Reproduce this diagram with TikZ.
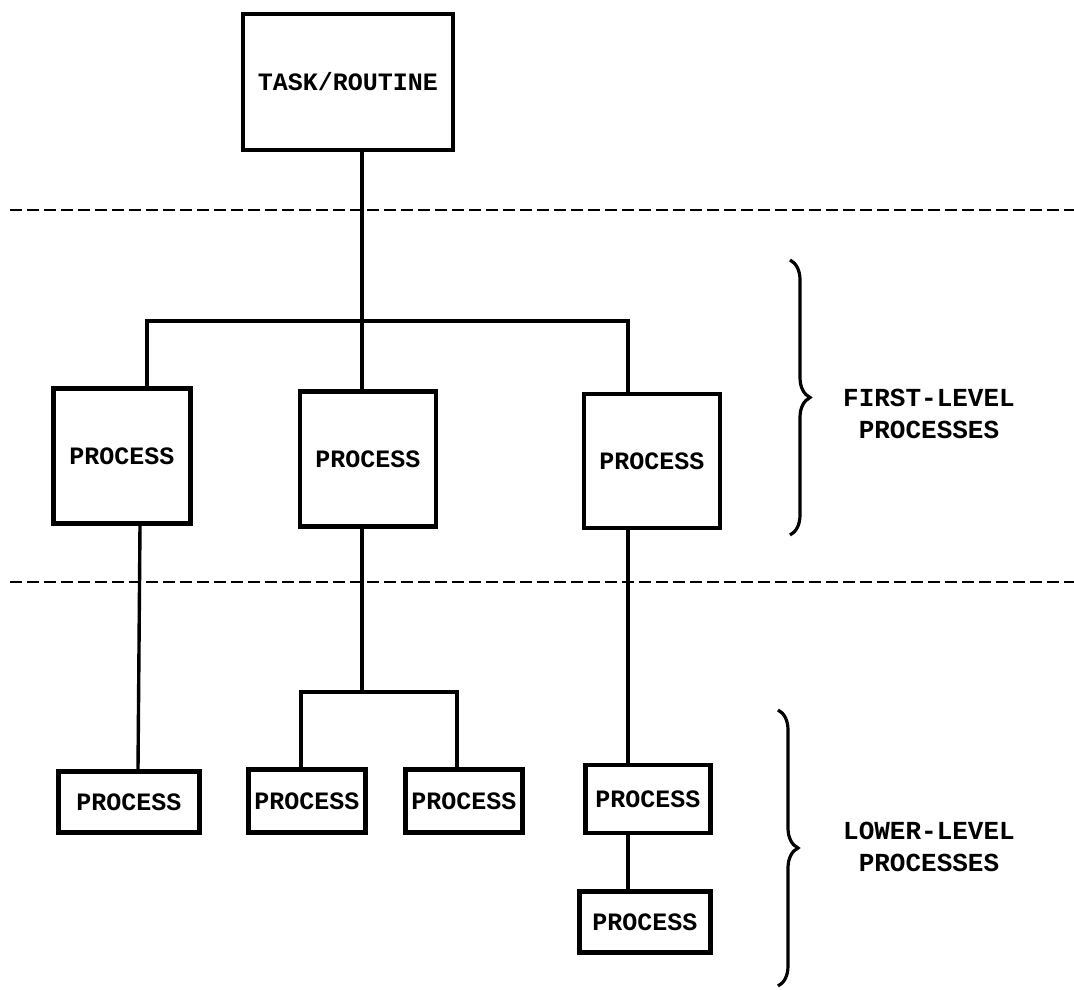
\documentclass[tikz,border=0pt]{standalone}
\usepackage{fontspec}
\setmonofont{Liberation Mono}
\usepackage{tikz}
\usetikzlibrary{calc, decorations.pathreplacing}
\tikzset{>=latex}

\begin{document}
\begin{tikzpicture}[x=1pt, y=-1pt,
  box/.style={draw, line width=4.2pt, inner sep=0pt, font=\ttfamily\bfseries\fontsize{25}{32}\selectfont},
  link/.style={line width=3.4pt},
  sep/.style={line width=2.6pt, dash pattern=on 12pt off 5pt},
  bracegroup/.style={line width=3.2pt, decorate, decoration={brace, amplitude=20pt}},
  sidetext/.style={align=center, font=\ttfamily\bfseries\fontsize{26}{32}\selectfont}]
\useasboundingbox (0,0) rectangle (1074,990);
\node[box, minimum width=210pt, minimum height=136pt] (task) at (348,82) {TASK/ROUTINE};
\node[box, minimum width=137pt, minimum height=135pt] (p1) at (122,456) {PROCESS};
\node[box, minimum width=136pt, minimum height=135pt] (p2) at (368,459) {PROCESS};
\node[box, minimum width=136pt, minimum height=134pt] (p3) at (652,461) {PROCESS};
\node[box, minimum width=141pt, minimum height=61pt] (q1) at (129,802) {PROCESS};
\node[box, minimum width=117pt, minimum height=63pt] (q2) at (307,801) {PROCESS};
\node[box, minimum width=117pt, minimum height=63pt] (q3) at (464,801) {PROCESS};
\node[box, minimum width=125pt, minimum height=68pt] (q4) at (648,799) {PROCESS};
\node[box, minimum width=131pt, minimum height=61pt] (q5) at (645,922) {PROCESS};
\coordinate (split) at (362,321);
\coordinate (fork) at (362,692);
\draw[link] (task.south -| split) -- (split);
\draw[link] ([xshift=25pt]p1.north) |- (split) -| ([xshift=-24pt]p3.north);
\draw[link] (split) -- (split |- p2.north);
\draw[link] ([xshift=18pt]p1.south) -- ([xshift=9pt]q1.north);
\draw[link] (fork |- p2.south) -- (fork);
\draw[link] ([xshift=-6pt]q2.north) |- (fork) -| ([xshift=-7pt]q3.north);
\draw[link] ([xshift=-24pt]p3.south) -- ([xshift=-20pt]q4.north);
\draw[link] ([xshift=-20pt]q4.south) -- ([xshift=-17pt]q5.north);
\draw[sep] (10,210) -- (1074,210);
\draw[sep] (10,582) -- (1074,582);
\draw[bracegroup] (790,260) -- (790,535);
\draw[bracegroup] (778,710) -- (778,986);
\node[sidetext] (first) at (929,414) {FIRST-LEVEL\\PROCESSES};
\node[sidetext] (lower) at (929,847) {LOWER-LEVEL\\PROCESSES};
\end{tikzpicture}
\end{document}
